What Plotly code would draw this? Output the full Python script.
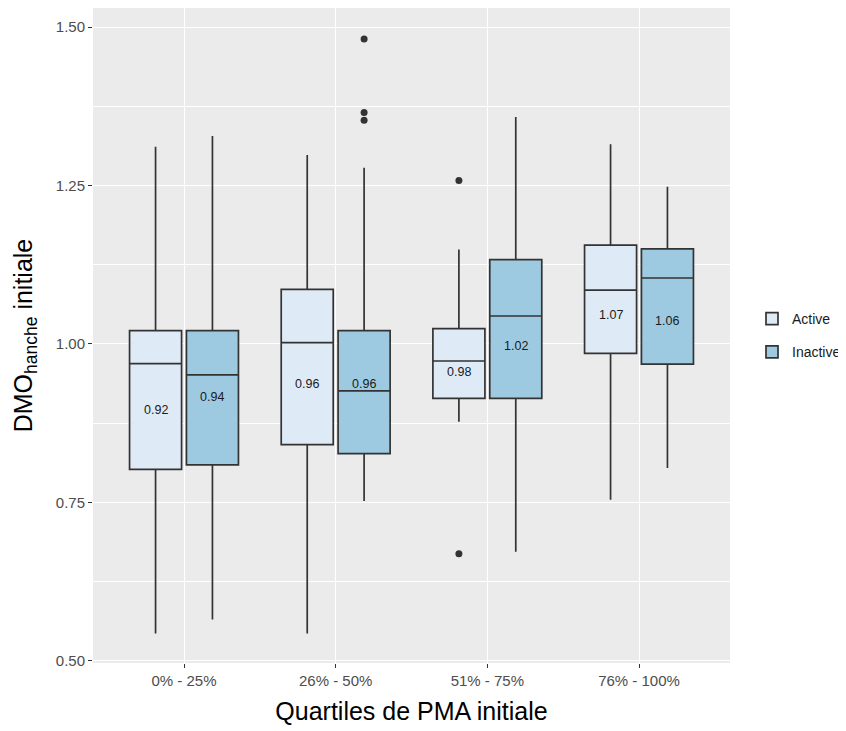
import plotly.graph_objects as go

categories = ["0% - 25%", "26% - 50%", "51% - 75%", "76% - 100%"]
positions = [1, 2, 3, 4]

groups = ["Active", "Inactive"]

active_lower = [0.543, 0.543, 0.877, 0.754]
active_q1 = [0.802, 0.841, 0.914, 0.985]
active_median = [0.969, 1.002, 0.973, 1.085]
active_q3 = [1.021, 1.086, 1.024, 1.156]
active_upper = [1.311, 1.298, 1.149, 1.315]
active_mean = [0.92, 0.96, 0.98, 1.07]
active_outlier_cat = [3, 3]
active_outlier_val = [1.258, 0.669]

inactive_lower = [0.565, 0.752, 0.672, 0.804]
inactive_q1 = [0.809, 0.827, 0.914, 0.968]
inactive_median = [0.951, 0.926, 1.044, 1.104]
inactive_q3 = [1.021, 1.021, 1.133, 1.150]
inactive_upper = [1.328, 1.278, 1.358, 1.248]
inactive_mean = [0.94, 0.96, 1.02, 1.06]
inactive_outlier_cat = [2, 2, 2]
inactive_outlier_val = [1.481, 1.365, 1.353]

fills = {"Active": "#DEEBF7", "Inactive": "#9ECAE1"}
line_col = "#333333"
dodge_width = 0.75
box_width = 0.343

series = {
    "Active": dict(lower=active_lower, q1=active_q1, median=active_median, q3=active_q3,
                   upper=active_upper, mean=active_mean,
                   ocat=active_outlier_cat, oval=active_outlier_val),
    "Inactive": dict(lower=inactive_lower, q1=inactive_q1, median=inactive_median, q3=inactive_q3,
                     upper=inactive_upper, mean=inactive_mean,
                     ocat=inactive_outlier_cat, oval=inactive_outlier_val),
}

fig = go.Figure()
annotations = []
for gi, g in enumerate(groups):
    s = series[g]
    off = (gi - 0.5) * dodge_width / 2
    xs = [p + off for p in positions]
    fig.add_trace(go.Box(
        name=g, x=xs, q1=s["q1"], median=s["median"], q3=s["q3"],
        lowerfence=s["lower"], upperfence=s["upper"],
        width=box_width, whiskerwidth=0, boxpoints=False,
        fillcolor=fills[g], line=dict(color=line_col, width=1.7),
        showlegend=True, legendgroup=g,
    ))
    fig.add_trace(go.Scatter(
        x=[c + off for c in s["ocat"]], y=s["oval"], mode="markers",
        marker=dict(color=line_col, size=7), showlegend=False, hoverinfo="y",
        legendgroup=g,
    ))
    for x, m in zip(xs, s["mean"]):
        annotations.append(dict(
            x=x, y=m, text=f"{m:.2f}", showarrow=False, yshift=-15,
            font=dict(family="Liberation Sans, Arial", size=12.5, color="#1a1a1a"),
        ))

fig.update_layout(
    width=838, height=723,
    paper_bgcolor="white", plot_bgcolor="#EBEBEB",
    margin=dict(l=85, r=109, t=0, b=68),
    boxmode="overlay",
    font=dict(family="Liberation Sans, Arial", color="#4D4D4D"),
    annotations=annotations,
    legend=dict(x=1.035, y=0.5, xanchor="left", yanchor="middle",
                font=dict(size=14, color="#1a1a1a"), bgcolor="white",
                tracegroupgap=12),
    xaxis=dict(
        range=[0.4, 4.6], tickvals=positions, ticktext=categories,
        showgrid=True, gridcolor="white", gridwidth=1.3, zeroline=False,
        ticks="outside", ticklen=4, tickcolor=line_col, tickwidth=1,
        tickfont=dict(size=15, color="#4D4D4D"), automargin=False,
        title=dict(text="Quartiles de PMA initiale", standoff=14,
                   font=dict(size=25, color="black")),
        showline=False,
    ),
    yaxis=dict(
        range=[0.4965, 1.53], tickvals=[0.5, 0.75, 1.0, 1.25, 1.5],
        ticktext=["0.50", "0.75", "1.00", "1.25", "1.50"],
        showgrid=True, gridcolor="white", gridwidth=1.3, zeroline=False,
        ticks="outside", ticklen=4, tickcolor=line_col, tickwidth=1,
        tickfont=dict(size=15, color="#4D4D4D"), automargin=False,
        minor=dict(tickvals=[0.625, 0.875, 1.125, 1.375], showgrid=True,
                   gridcolor="white", gridwidth=0.6, ticks=""),
        title=dict(text="DMO<sub>hanche</sub> initiale", standoff=16,
                   font=dict(size=25, color="black")),
        showline=False,
    ),
)

fig.write_html("out.html")
